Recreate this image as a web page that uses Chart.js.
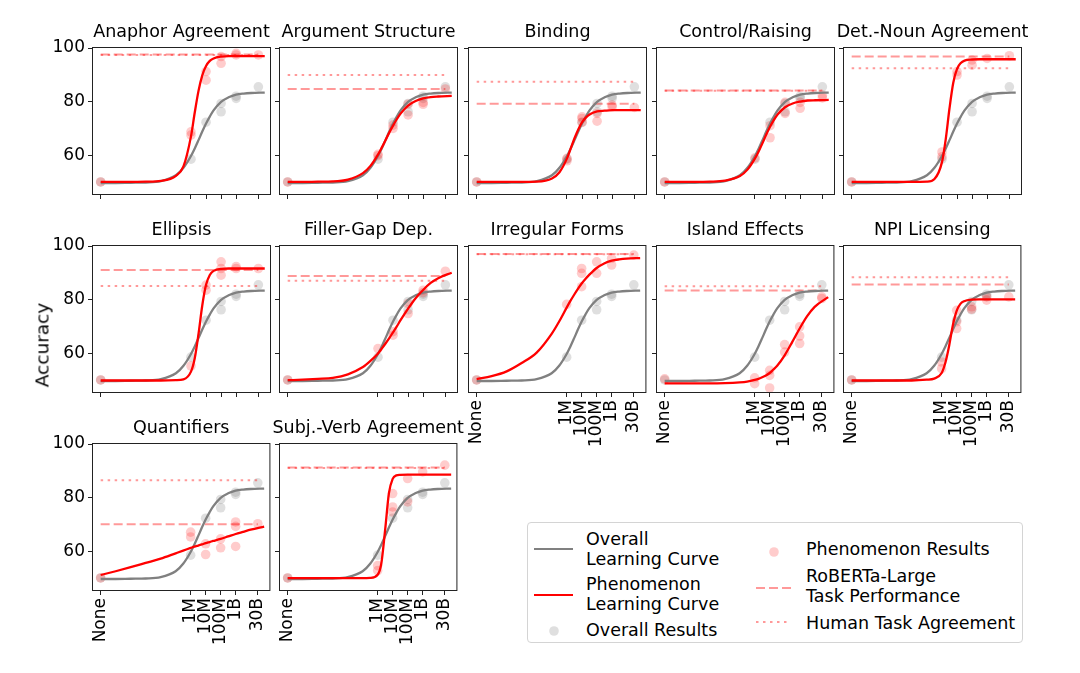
<!DOCTYPE html>
<html>
<head>
<meta charset="utf-8">
<script src="https://cdn.jsdelivr.net/npm/chart.js"></script>
<style>
  body { margin: 0; background: #fff; width: 1080px; height: 673px; position: relative; overflow: hidden; font-family: "DejaVu Sans", sans-serif; color: #000; }
  .panel { position: absolute; }
  #ylab { position: absolute; left: 42px; top: 345px; font-size: 18.5px; transform: translate(-50%, -50%) rotate(-90deg); white-space: nowrap; }
  #legend { position: absolute; left: 527px; top: 522px; width: 496px; height: 121px; box-sizing: border-box; border: 1px solid #d4d4d4; border-radius: 4px; background: #fff; }
  #legend .lt { position: absolute; font-size: 17.5px; line-height: 20px; white-space: nowrap; }
</style>
</head>
<body>
<div id="panels"></div>
<div id="ylab">Accuracy</div>
<div id="legend">
  <svg width="496" height="121" style="position:absolute;left:0;top:0">
    <line x1="6" y1="26" x2="45" y2="26" stroke="#808080" stroke-width="2.2"/>
    <line x1="6" y1="72" x2="45" y2="72" stroke="#ff0000" stroke-width="2.2"/>
    <circle cx="26" cy="108" r="4.8" fill="rgba(128,128,128,0.25)"/>
    <circle cx="246" cy="29" r="4.8" fill="rgba(255,0,0,0.2)"/>
    <line x1="228" y1="65" x2="263" y2="65" stroke="rgba(255,0,0,0.4)" stroke-width="2" stroke-dasharray="9 4"/>
    <line x1="228" y1="99" x2="263" y2="99" stroke="rgba(255,0,0,0.4)" stroke-width="2" stroke-dasharray="2.5 4.5"/>
  </svg>
  <div class="lt" style="left:58px;top:6px">Overall<br>Learning Curve</div>
  <div class="lt" style="left:58px;top:51px">Phenomenon<br>Learning Curve</div>
  <div class="lt" style="left:58px;top:97px">Overall Results</div>
  <div class="lt" style="left:278px;top:16px">Phenomenon Results</div>
  <div class="lt" style="left:278px;top:43px">RoBERTa-Large<br>Task Performance</div>
  <div class="lt" style="left:278px;top:90px">Human Task Agreement</div>
</div>
<script>
// x positions are log10(pretraining words), "None" placed at 0
const X_TICKS = [0, 6, 7, 8, 9, 10.477];
const X_LABELS = ['None', '1M', '10M', '100M', '1B', '30B'];
const Y_TICKS = [60, 80, 100];

const titles = ['Anaphor Agreement', 'Argument Structure', 'Binding', 'Control/Raising', 'Det.-Noun Agreement',
                'Ellipsis', 'Filler-Gap Dep.', 'Irregular Forms', 'Island Effects', 'NPI Licensing',
                'Quantifiers', 'Subj.-Verb Agreement'];

const roberta = [97.6, 84.7, 79.2, 84.1, 96.8, 91.0, 88.8, 97.0, 83.4, 85.6, 70.0, 91.25];
const human   = [97.4, 89.9, 87.4, 84.0, 92.4, 85.1, 87.0, 96.9, 85.0, 88.3, 86.5, 91.0];

// fitted curves, read at these x positions
const CURVE_X = [0, 1, 2, 3, 4, 5, 5.5, 6, 6.25, 6.5, 6.75, 7, 7.25, 7.5, 8, 8.5, 9, 9.5, 10, 10.9];
const overallCurve   = [49.6, 49.6, 49.7, 49.8, 50.3, 52.5, 55.3, 59.7, 62.5, 65.6, 68.8, 71.8, 74.4, 76.7, 79.9, 81.6, 82.6, 83.0, 83.2, 83.35];
const anaphorCurve   = [50, 50, 50, 50.1, 50.4, 52.3, 55.8, 67.0, 75.9, 84.0, 89.8, 93.3, 95.2, 96.1, 96.8, 97.0, 97.0, 97.0, 97.0, 97.0];
const argCurve       = [50, 50, 50.1, 50.2, 50.9, 53.3, 56.0, 60.2, 62.8, 65.6, 68.4, 71.0, 73.4, 75.5, 78.5, 80.2, 81.2, 81.7, 81.9, 82.1];
const bindingCurve   = [50, 50, 50, 50, 50.1, 51.3, 53.6, 58.8, 62.5, 66.3, 69.6, 72.2, 74.0, 75.2, 76.3, 76.6, 76.8, 76.8, 76.8, 76.8];
const controlCurve   = [50, 50, 50, 50.1, 50.5, 52.2, 54.6, 58.8, 61.5, 64.5, 67.7, 70.6, 73.1, 75.2, 77.9, 79.3, 80.0, 80.4, 80.5, 80.6];
const detNounCurve   = [50, 50, 50, 50, 50, 50.1, 51.1, 57.4, 66.0, 77.5, 87.0, 92.2, 94.4, 95.3, 95.7, 95.8, 95.8, 95.8, 95.8, 95.8];
const ellipsisCurve  = [49.8, 49.8, 49.8, 49.8, 49.8, 49.9, 50.2, 53.1, 58.1, 67.2, 77.8, 85.5, 89.2, 90.7, 91.5, 91.6, 91.6, 91.6, 91.6, 91.6];
const fillerGapCurve = [49.9, 50.1, 50.4, 50.8, 52.1, 54.8, 57.1, 59.9, 61.7, 63.6, 65.6, 67.8, 70.0, 72.3, 76.6, 80.5, 83.6, 86.2, 88.0, 90.0];
const irregularCurve = [50.3, 51.4, 53.2, 56.3, 60.2, 67.2, 71.8, 77.0, 79.5, 81.8, 84.0, 86.0, 87.7, 89.2, 91.8, 93.5, 94.5, 95.0, 95.3, 95.5];
const islandCurve    = [48.7, 48.7, 48.7, 48.7, 48.8, 49.1, 49.4, 50.0, 50.4, 51.0, 51.7, 52.6, 53.9, 55.3, 59.2, 64.1, 69.2, 73.8, 77.3, 80.9];
const npiCurve       = [49.8, 49.8, 49.8, 49.8, 49.8, 50.1, 50.5, 52.6, 56.5, 62.8, 70.5, 75.8, 78.4, 79.4, 80.0, 80.1, 80.1, 80.1, 80.1, 80.1];
const quantCurve     = [51.1, 52.5, 54.0, 55.6, 57.2, 59.2, 60.2, 61.2, 61.7, 62.1, 62.5, 63.0, 63.4, 63.8, 64.6, 65.5, 66.4, 67.2, 68.0, 69.2];
const subjVerbCurve  = [49.9, 49.9, 49.9, 49.9, 49.9, 49.9, 50.0, 51.2, 55.6, 68.0, 81.6, 87.0, 88.3, 88.5, 88.6, 88.6, 88.6, 88.6, 88.6, 88.6];

// model results, one list per x tick (None, 1M, 10M, 100M, 1B, 30B)
const overallResults   = [[50], [58.5], [72.3], [79.3, 76.2], [82.0, 81.2], [85.5]];
const anaphorResults   = [[50], [68.7, 67.5], [91.2, 88.0], [96.8, 94.3], [98.0, 97.4], [97.4]];
const argResults       = [[50], [60.3, 59.8], [71.2, 70.0], [79.0, 75.0], [79.7, 79.0], [84.7]];
const bindingResults   = [[50], [57.9, 58.8], [73.7, 72.2, 74.3], [75.6, 72.7], [78.7, 78.0], [77.8]];
const controlResults   = [[50], [59.0], [71.0, 66.5], [79.7, 75.6], [79.7, 77.5], [82.4, 81.4]];
const detNounResults   = [[50], [61.2, 59.4], [91.2, 89.9], [95.5, 93.6], [96.1], [97.1]];
const ellipsisResults  = [[50], [55.2], [85.4, 83.5], [94.1, 91.6, 89.1], [92.3, 91.6], [91.6]];
const fillerGapResults = [[50], [61.7], [66.7, 68.0], [78.5, 74.8], [83.5, 82.6], [90.6]];
const irregularResults = [[50], [78.2], [91.6, 89.8, 84.8], [94.1, 89.8], [95.4, 92.9], [96.6]];
const islandResults    = [[50.4], [50.8, 48.6], [53.6, 51.7, 47.0], [63.2, 60.4], [69.8, 66.4, 63.6], [81.0, 80.4]];
const npiResults       = [[50], [56.7, 54.2], [76.0, 71.7, 69.2], [77.3, 76.4], [81.0, 79.8], [81.0]];
const quantResults     = [[50], [67.1, 65.3], [62.75, 58.75], [64.6, 61.25], [70.9, 69.25, 61.75], [70.25]];
const subjVerbResults  = [[50], [52.75, 54.6], [81.5, 76.5, 74.6], [87.1, 78.4], [89.6], [92.1]];

const phenCurves = [anaphorCurve, argCurve, bindingCurve, controlCurve, detNounCurve, ellipsisCurve,
                    fillerGapCurve, irregularCurve, islandCurve, npiCurve, quantCurve, subjVerbCurve];
const phenResults = [anaphorResults, argResults, bindingResults, controlResults, detNounResults, ellipsisResults,
                     fillerGapResults, irregularResults, islandResults, npiResults, quantResults, subjVerbResults];

// layout
const COL_LEFT = [93, 280, 469, 657, 844];
const ROW_TOP = [48, 246, 444];
const PW = 177, PH = 146;
const PAD_L = 60, PAD_T = 40, PAD_R = 12, PAD_B = 70;
const FONT = 'DejaVu Sans';

function curvePoints(ys) {
  return CURVE_X.map((x, i) => ({ x: x, y: ys[i] }));
}
function resultPoints(res) {
  const pts = [];
  res.forEach((vals, i) => vals.forEach(v => pts.push({ x: X_TICKS[i], y: v })));
  return pts;
}
function hline(y) {
  return [{ x: X_TICKS[0], y: y }, { x: X_TICKS[X_TICKS.length - 1], y: y }];
}

const framePlugin = {
  id: 'frame',
  afterDraw(chart, args, opts) {
    const a = chart.chartArea, ctx = chart.ctx;
    ctx.save();
    ctx.strokeStyle = '#222';
    ctx.lineWidth = 1;
    ctx.strokeRect(a.left - 0.5, a.top - 0.5, a.right - a.left + 1, a.bottom - a.top + 1);
    ctx.fillStyle = '#000';
    ctx.font = '17.5px "' + FONT + '"';
    ctx.textAlign = 'center';
    ctx.textBaseline = 'alphabetic';
    ctx.fillText(opts.title, (a.left + a.right) / 2, a.top - 11);
    ctx.restore();
  }
};

const holder = document.getElementById('panels');

titles.forEach((title, idx) => {
  const row = Math.floor(idx / 5), col = idx % 5;
  const showX = idx >= 7;
  const showY = col === 0;

  const div = document.createElement('div');
  div.className = 'panel';
  div.style.left = (COL_LEFT[col] - PAD_L) + 'px';
  div.style.top = (ROW_TOP[row] - PAD_T) + 'px';
  const canvas = document.createElement('canvas');
  canvas.width = PW + PAD_L + PAD_R;
  canvas.height = PH + PAD_T + PAD_B;
  div.appendChild(canvas);
  holder.appendChild(div);

  new Chart(canvas.getContext('2d'), {
    type: 'scatter',
    data: {
      datasets: [
        { data: curvePoints(phenCurves[idx]), showLine: true, borderColor: '#ff0000', borderWidth: 2.3,
          pointRadius: 0, cubicInterpolationMode: 'monotone', order: 1 },
        { data: curvePoints(overallCurve), showLine: true, borderColor: '#808080', borderWidth: 2.3,
          pointRadius: 0, cubicInterpolationMode: 'monotone', order: 2 },
        { data: hline(roberta[idx]), showLine: true, borderColor: 'rgba(255,0,0,0.4)', borderWidth: 2,
          borderDash: [9, 4], pointRadius: 0, order: 3 },
        { data: hline(human[idx]), showLine: true, borderColor: 'rgba(255,0,0,0.4)', borderWidth: 2,
          borderDash: [2.5, 4.5], pointRadius: 0, order: 3 },
        { data: resultPoints(phenResults[idx]), backgroundColor: 'rgba(255,0,0,0.2)', borderWidth: 0,
          pointRadius: 4.8, order: 4 },
        { data: resultPoints(overallResults), backgroundColor: 'rgba(128,128,128,0.25)', borderWidth: 0,
          pointRadius: 4.8, order: 5 }
      ]
    },
    options: {
      responsive: false,
      animation: false,
      devicePixelRatio: 1,
      events: [],
      layout: { padding: { left: 0, top: PAD_T, right: PAD_R, bottom: 0 } },
      plugins: {
        legend: { display: false },
        tooltip: { enabled: false },
        frame: { title: title }
      },
      scales: {
        x: {
          type: 'linear',
          min: -0.51,
          max: 11.25,
          afterBuildTicks: s => { s.ticks = X_TICKS.map(v => ({ value: v })); },
          afterFit: s => { s.height = PAD_B; },
          ticks: {
            display: showX,
            autoSkip: false,
            minRotation: 90,
            maxRotation: 90,
            padding: 3,
            color: '#000',
            font: { family: FONT, size: 17 },
            callback: (v, i) => X_LABELS[i]
          },
          grid: { drawOnChartArea: false, drawTicks: true, tickLength: 5, color: '#222', lineWidth: 1 },
          border: { display: false }
        },
        y: {
          min: 45.5,
          max: 100,
          afterBuildTicks: s => { s.ticks = Y_TICKS.map(v => ({ value: v })); },
          afterFit: s => { s.width = PAD_L; },
          ticks: {
            display: showY,
            padding: 3,
            color: '#000',
            font: { family: FONT, size: 17 },
            callback: v => String(v)
          },
          grid: { drawOnChartArea: false, drawTicks: true, tickLength: 5, color: '#222', lineWidth: 1 },
          border: { display: false }
        }
      }
    },
    plugins: [framePlugin]
  });
});
</script>
</body>
</html>
